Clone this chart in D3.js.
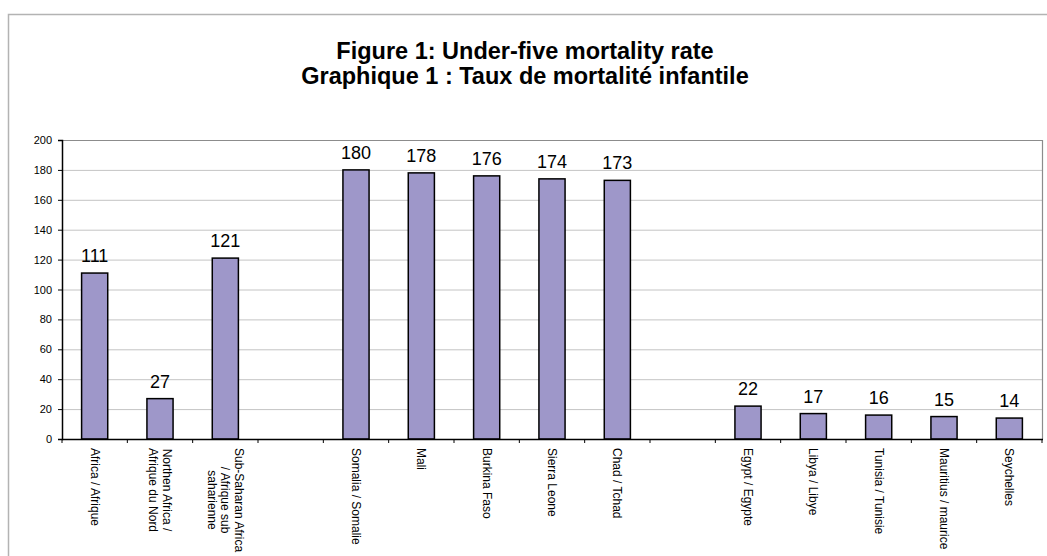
<!DOCTYPE html>
<meta charset="utf-8"/>
<style>
  body { margin: 0; background: #fff; }
  svg { font-family: "Liberation Sans", Arial, sans-serif; display: block; }
  .grid line { stroke: #c4c4c4; stroke-width: 1; }
  .bars rect { fill: #9e97c9; stroke: #000; stroke-width: 1.5px; }
</style>
<svg width="1047" height="556"></svg>
<script src="https://d3js.org/d3.v7.min.js"></script>
<script>

  // chart data (empty entries are the blank gaps between groups)
  var categories = [
    ["Africa / Afrique"],
    ["Northen Africa /", "Afrique du Nord"],
    ["Sub-Saharan Africa", "/ Afrique sub", "saharienne"],
    [],
    ["Somalia / Somalie"],
    ["Mali"],
    ["Burkina Faso"],
    ["Sierra Leone"],
    ["Chad / Tchad"],
    [],
    ["Egypt / Egypte"],
    ["Libya / Libye"],
    ["Tunisia / Tunisie"],
    ["Mauritius / maurice"],
    ["Seychelles"]
  ];
  var values = [111, 27, 121, null, 180, 178, 176, 174, 173, null, 22, 17, 16, 15, 14];
  var yTicks = [0, 20, 40, 60, 80, 100, 120, 140, 160, 180, 200];
  var titleLines = ["Figure 1: Under-five mortality rate", "Graphique 1 : Taux de mortalité infantile"];

  var svg = d3.select("svg");
  var plotLeft = 62, plotRight = 1042, plotTop = 140, plotBottom = 439;

  // outer chart frame (only top and left edges visible)
  svg.append("path")
    .attr("d", "M8.5,556V14.5H1047")
    .attr("fill", "none")
    .attr("stroke", "#b3b3b3")
    .attr("stroke-width", 1.5);

  // title
  svg.append("g").selectAll("text")
    .data(titleLines)
    .enter().append("text")
    .attr("x", 525)
    .attr("y", function (d, i) { return 59 + i * 25; })
    .attr("text-anchor", "middle")
    .attr("font-size", "23.5px")
    .attr("font-weight", "bold")
    .text(function (d) { return d; });

  var idx = d3.range(categories.length);

  var x = d3.scaleBand()
    .domain(idx)
    .range([plotLeft, plotRight])
    .paddingInner(0.6)
    .paddingOuter(0.3);

  var slot = (plotRight - plotLeft) / categories.length;

  var y = d3.scaleLinear()
    .domain([0, 200])
    .range([plotBottom, plotTop]);

  // gridlines
  svg.append("g")
    .attr("class", "grid")
    .selectAll("line")
    .data(yTicks.slice(1, -1))
    .enter().append("line")
    .attr("x1", plotLeft).attr("x2", plotRight)
    .attr("y1", function (d) { return y(d) + 0.5; })
    .attr("y2", function (d) { return y(d) + 0.5; });

  // plot border top/right
  svg.append("path")
    .attr("d", "M" + plotLeft + "," + (plotTop + 0.5) + "H" + (plotRight + 0.5) + "V" + plotBottom)
    .attr("fill", "none")
    .attr("stroke", "#8c8c8c")
    .attr("stroke-width", 1.2);

  // y axis
  var yAxis = svg.append("g")
    .attr("transform", "translate(" + plotLeft + ",0)")
    .call(d3.axisLeft(y).tickValues(yTicks).tickSize(4).tickPadding(6));
  yAxis.select(".domain").attr("stroke", "#000").attr("stroke-width", 1.5);
  yAxis.selectAll("text").attr("font-size", "11px");
  yAxis.attr("font-family", null);

  // bars
  var shown = idx.filter(function (i) { return values[i] != null; });

  svg.append("g")
    .attr("class", "bars")
    .selectAll("rect")
    .data(shown)
    .enter().append("rect")
    .attr("x", function (i) { return x(i); })
    .attr("width", x.bandwidth())
    .attr("y", function (i) { return y(values[i]); })
    .attr("height", function (i) { return plotBottom - y(values[i]); });

  // value labels
  svg.append("g")
    .selectAll("text")
    .data(shown)
    .enter().append("text")
    .attr("x", function (i) { return x(i) + x.bandwidth() / 2; })
    .attr("y", function (i) { return y(values[i]) - 11; })
    .attr("text-anchor", "middle")
    .attr("font-size", "18px")
    .text(function (i) { return values[i]; });

  // x axis line and ticks at slot boundaries
  var xa = svg.append("g");
  xa.append("line")
    .attr("x1", plotLeft).attr("x2", plotRight + 1)
    .attr("y1", plotBottom + 0.5).attr("y2", plotBottom + 0.5)
    .attr("stroke", "#000").attr("stroke-width", 1.5);
  xa.selectAll(".tk")
    .data(d3.range(categories.length + 1))
    .enter().append("line")
    .attr("x1", function (i) { return plotLeft + i * slot; })
    .attr("x2", function (i) { return plotLeft + i * slot; })
    .attr("y1", plotBottom).attr("y2", plotBottom + 4)
    .attr("stroke", "#000");

  // rotated category labels
  var lineH = 13.5;
  var lab = svg.append("g")
    .selectAll("g")
    .data(idx)
    .enter().append("g")
    .attr("transform", function (i) {
      var n = categories[i].length;
      var cx = x(i) + x.bandwidth() / 2 + (n - 1) * lineH / 2 - 4;
      return "translate(" + cx + ",448) rotate(90)";
    });

  lab.each(function (i) {
    var t = d3.select(this).append("text")
      .attr("font-size", "12px")
      .attr("text-anchor", "middle");
    categories[i].forEach(function (s, k) {
      t.append("tspan").attr("y", k * lineH).text(s);
    });
    var w = 0;
    t.selectAll("tspan").each(function () { w = Math.max(w, this.getComputedTextLength()); });
    t.selectAll("tspan").attr("x", w / 2);
  });

</script>
